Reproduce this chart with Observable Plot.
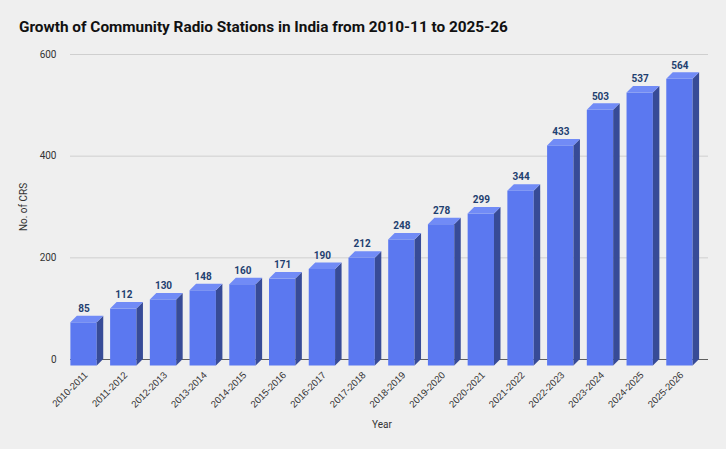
<!DOCTYPE html>
<html>
<head>
<meta charset="utf-8">
<script src="https://cdn.jsdelivr.net/npm/d3@7"></script>
<script src="https://cdn.jsdelivr.net/npm/@observablehq/plot@0.6"></script>
<style>
html,body{margin:0;padding:0;background:#efefef;width:726px;height:449px;overflow:hidden}
#t{height:40px;box-sizing:border-box;padding:17px 0 0 19px;font:700 15.35px/20px Roboto,sans-serif;color:#111;white-space:nowrap}
svg{display:block}
</style>
</head>
<body>
<div id="t">Growth of Community Radio Stations in India from 2010-11 to 2025-26</div>
<div id="c"></div>
<script>
const years = ["2010-2011","2011-2012","2012-2013","2013-2014","2014-2015","2015-2016","2016-2017","2017-2018","2018-2019","2019-2020","2020-2021","2021-2022","2022-2023","2023-2024","2024-2025","2025-2026"];
const stations = [85,112,130,148,160,171,190,212,248,278,299,344,433,503,537,564];
const yTicks = [0,200,400,600];
const rows = years.map((year,i)=>({year,value:stations[i]}));
const depth = 6.5;

function addFaces(index, scales, values, dims, ctx, next){
  const g = next(index, scales, values, dims, ctx);
  const ns = "http://www.w3.org/2000/svg";
  const y0 = scales.y(0) - depth;
  const w = typeof scales.x.bandwidth === "function" ? scales.x.bandwidth() : scales.x.bandwidth;
  for (const i of index){
    const x = scales.x(rows[i].year), y = scales.y(rows[i].value) - depth;
    const side = document.createElementNS(ns,"polygon");
    side.setAttribute("points",`${x+w},${y+depth} ${x+w+depth},${y} ${x+w+depth},${y0} ${x+w},${y0+depth}`);
    side.setAttribute("fill","#374b97");
    g.appendChild(side);
    const top = document.createElementNS(ns,"polygon");
    top.setAttribute("points",`${x},${y+depth} ${x+w},${y+depth} ${x+w+depth},${y} ${x+depth},${y}`);
    top.setAttribute("fill","#718bf6");
    g.appendChild(top);
  }
  return g;
}

const chart = Plot.plot({
  width:726, height:409,
  marginLeft:57, marginRight:20, marginTop:14, marginBottom:90,
  style:{background:"transparent",fontFamily:"Roboto,sans-serif"},
  x:{domain:years,padding:0.337,round:false,label:null},
  y:{domain:[0,600],label:null},
  marks:[
    Plot.ruleY(yTicks.filter(d=>d>0),{y:d=>d,stroke:"#cfcfcf",strokeWidth:1,insetLeft:13,insetRight:-2}),
    Plot.ruleY([0],{stroke:"#5f5f5f",strokeWidth:1.2,insetLeft:13,insetRight:-2}),
    Plot.barY(rows,{x:"year",y:"value",fill:"#5b78f0",dy:depth,render:addFaces}),
    Plot.text(rows,{x:"year",y:"value",text:d=>String(d.value),dy:-7.5,fill:"#1f3f70",fontWeight:700,fontSize:10}),
    Plot.axisY({ticks:yTicks,tickSize:0,tickPadding:1,fontSize:10,color:"#333",label:"No. of CRS",labelAnchor:"center",labelArrow:"none",labelOffset:38}),
    Plot.axisX({tickSize:0,tickRotate:-45,tickPadding:14,fontSize:9.6,dx:2,fontFamily:"'Liberation Sans',sans-serif",color:"#333",label:null}),
    Plot.axisX({tickSize:0,text:null,label:"Year",labelAnchor:"center",labelArrow:"none",labelOffset:68,fontSize:10,color:"#333"})
  ]
});
document.getElementById("c").appendChild(chart);
</script>
</body>
</html>
